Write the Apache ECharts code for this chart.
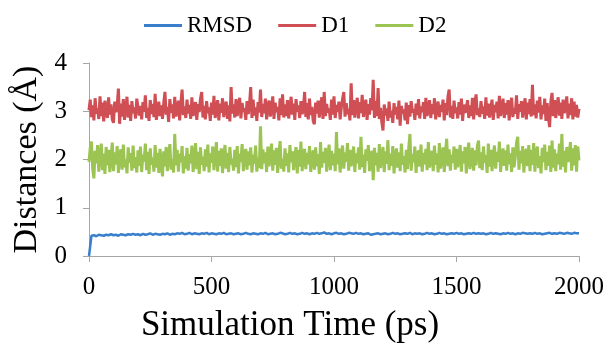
<!DOCTYPE html>
<html>
<head>
<meta charset="utf-8">
<script src="https://cdn.jsdelivr.net/npm/echarts@6/dist/echarts.min.js"></script>
<style>html,body{margin:0;padding:0;background:#fff}#c{width:608px;height:348px}</style>
</head>
<body>
<div id="c"></div>
<script>
// sampling steps of the time series (ps)
const RMSD_STEP = 10;
const D_STEP = 5;
const seriesNames = ['RMSD', 'D1', 'D2'];
const xTicks = [0, 500, 1000, 1500, 2000];
const yTicks = [0, 1, 2, 3, 4];

const rmsd = [
0.00,0.42,0.43,0.41,0.44,0.43,0.42,0.44,0.43,0.45,
0.43,0.44,0.42,0.45,0.44,0.43,0.45,0.44,0.46,0.44,
0.45,0.43,0.46,0.44,0.45,0.47,0.44,0.46,0.45,0.44,
0.46,0.45,0.47,0.44,0.46,0.45,0.47,0.46,0.48,0.45,
0.46,0.48,0.45,0.47,0.46,0.45,0.47,0.46,0.48,0.45,
0.47,0.46,0.45,0.47,0.46,0.48,0.45,0.46,0.47,0.45,
0.46,0.47,0.45,0.46,0.48,0.46,0.45,0.47,0.46,0.45,
0.47,0.46,0.48,0.45,0.46,0.47,0.45,0.46,0.48,0.47,
0.45,0.46,0.48,0.46,0.47,0.45,0.46,0.48,0.46,0.47,
0.45,0.47,0.46,0.48,0.46,0.47,0.49,0.46,0.47,0.45,
0.47,0.48,0.46,0.47,0.45,0.46,0.48,0.47,0.46,0.48,
0.46,0.47,0.45,0.46,0.47,0.44,0.45,0.46,0.47,0.45,
0.46,0.47,0.45,0.46,0.48,0.46,0.47,0.45,0.46,0.47,
0.46,0.48,0.45,0.47,0.46,0.47,0.45,0.46,0.48,0.46,
0.47,0.45,0.46,0.48,0.46,0.47,0.45,0.46,0.47,0.46,
0.48,0.46,0.47,0.45,0.46,0.47,0.46,0.48,0.46,0.47,
0.46,0.47,0.45,0.46,0.48,0.46,0.47,0.46,0.45,0.47,
0.46,0.48,0.46,0.47,0.45,0.47,0.46,0.48,0.47,0.46,
0.47,0.46,0.48,0.46,0.47,0.45,0.46,0.47,0.48,0.46,
0.47,0.46,0.48,0.47,0.46,0.48,0.47,0.46,0.48,0.47,
0.47];

const d1 = [
3.02,3.24,2.88,3.12,2.81,3.27,2.95,3.06,2.84,3.31,2.90,3.18,2.79,3.22,3.00,2.86,3.29,2.93,3.14,2.83,
2.76,3.20,2.98,3.10,3.47,2.74,3.16,2.89,3.25,2.82,3.05,3.30,2.87,3.13,2.80,3.21,2.96,3.08,2.85,3.26,
3.28,2.91,3.11,2.83,3.19,2.99,3.33,2.86,3.07,2.80,3.23,2.94,3.15,2.88,3.36,2.82,3.03,3.20,2.90,3.12,
2.84,3.17,3.40,2.93,3.09,2.78,3.25,2.97,3.14,2.85,3.30,2.89,3.06,3.22,2.81,3.18,3.45,2.92,3.10,2.86,
3.24,2.95,3.13,2.84,3.29,2.90,3.07,3.19,2.82,3.15,2.98,3.26,3.40,2.87,3.11,2.83,3.21,2.96,3.08,2.80,
3.18,2.93,3.32,2.86,3.04,3.23,2.81,3.16,2.97,3.27,2.88,3.09,3.20,2.84,3.12,2.79,3.50,2.95,3.14,2.87,
3.25,2.90,3.10,3.28,2.85,3.17,2.99,3.06,2.82,3.21,2.94,3.13,3.50,2.86,3.24,2.91,3.08,2.80,3.19,2.97,
3.45,2.88,3.15,2.96,3.26,2.83,3.11,3.22,2.89,3.05,3.31,2.84,3.18,2.98,3.09,2.81,3.27,2.92,3.35,2.87,
3.14,2.90,3.23,2.85,3.07,3.30,2.93,3.16,2.82,3.25,2.99,3.12,2.86,3.21,2.94,3.04,3.40,2.88,3.17,2.83,
3.26,2.92,3.09,2.80,2.73,3.18,2.95,3.22,2.87,3.11,3.29,2.84,3.40,2.90,3.15,2.97,3.06,2.82,3.24,2.93,
3.31,2.86,3.13,2.99,3.20,2.83,3.08,3.26,3.40,2.89,3.17,2.94,3.05,2.81,3.58,2.92,3.23,2.87,3.12,3.28,
2.85,3.19,2.96,3.34,2.88,3.10,3.24,2.82,3.15,2.93,3.27,3.02,3.65,2.86,3.21,2.90,3.48,2.84,3.07,2.78,
2.60,3.14,2.91,3.06,2.80,3.20,2.87,3.01,2.76,3.17,2.93,3.09,2.83,3.22,2.70,3.11,2.95,3.04,2.81,3.18,
2.73,3.13,2.89,3.21,2.97,3.05,2.82,3.16,2.92,3.25,2.85,3.10,2.98,3.19,2.84,3.28,2.90,3.07,3.23,2.86,
3.15,2.94,3.27,2.83,3.09,3.20,2.88,3.13,2.99,3.24,2.81,3.17,2.92,3.30,3.45,2.87,3.11,2.84,3.22,2.96,
3.08,2.85,3.19,2.93,3.26,2.80,3.14,2.97,3.04,3.23,2.86,3.12,2.90,3.28,2.83,3.18,3.35,2.92,3.06,2.88,
3.21,2.95,3.10,2.84,3.29,2.91,3.16,2.87,3.05,3.24,2.82,3.13,2.98,3.20,2.85,3.32,2.90,3.08,3.26,2.86,
3.17,2.93,3.23,2.81,3.11,3.28,2.88,3.06,2.95,3.33,2.84,3.15,2.99,3.21,2.87,3.09,3.27,2.83,3.18,2.94,
3.25,2.89,3.55,2.92,3.14,2.85,3.22,2.97,3.30,2.83,3.12,2.94,3.26,2.80,3.17,2.88,2.67,3.20,3.38,2.90,
3.23,2.86,3.10,3.29,2.91,3.18,2.84,3.24,2.96,3.07,3.31,2.85,3.16,2.92,3.27,2.83,3.20,2.89,3.13,2.87,
3.05];

const d2 = [
1.95,2.24,2.37,1.80,1.61,2.18,1.92,2.30,1.75,2.06,2.33,1.78,2.12,1.70,2.26,1.88,2.20,1.74,2.02,2.35,
1.76,2.15,1.90,2.28,1.72,2.08,2.21,1.79,2.31,1.84,2.00,1.71,2.25,1.93,2.13,1.77,2.29,1.82,2.05,1.73,
2.19,1.87,2.27,1.74,2.10,1.96,2.33,1.78,2.16,1.70,2.23,1.89,2.04,1.75,2.30,1.83,2.14,1.72,2.22,1.91,
1.65,2.17,1.86,2.26,1.76,2.09,2.32,1.79,2.01,1.73,2.53,1.88,2.20,1.75,2.12,1.94,2.28,1.71,2.07,1.81,
2.24,1.77,2.11,1.92,2.29,1.74,2.03,2.34,1.80,2.16,1.70,2.25,1.89,2.06,1.76,2.21,1.85,2.31,1.73,2.13,
1.93,2.27,1.78,2.09,2.36,1.75,2.18,1.87,2.23,1.72,2.05,2.30,1.81,2.14,1.74,2.26,1.90,2.02,1.77,2.20,
1.84,2.28,1.71,2.12,1.95,2.32,1.76,2.07,2.22,1.79,2.17,1.88,2.25,1.73,2.10,1.91,2.29,1.75,2.04,1.82,
2.69,1.80,2.21,1.92,2.15,1.74,2.27,1.86,2.08,2.33,1.77,2.19,1.89,2.24,1.72,2.11,2.38,1.81,2.02,1.75,
2.23,1.87,2.13,1.73,2.30,1.94,2.17,1.78,2.06,2.26,1.71,2.20,1.85,2.37,1.76,2.09,2.22,1.80,2.14,1.90,
2.28,1.74,2.03,2.19,1.79,2.25,1.86,2.11,1.70,2.36,1.83,2.16,1.93,2.24,1.75,2.07,2.31,1.78,2.18,1.88,
2.12,1.76,2.57,1.90,2.23,1.73,2.08,2.29,1.81,2.15,1.95,2.34,1.77,2.20,1.86,2.05,2.27,1.74,2.13,1.92,
2.25,1.79,2.47,1.84,2.10,1.72,2.21,1.97,2.30,1.76,2.06,2.18,1.57,2.24,1.88,2.14,1.75,2.32,1.82,2.09,
2.26,1.74,2.17,1.91,2.40,1.78,2.12,1.87,2.28,1.71,2.04,2.23,1.83,2.15,1.76,2.33,1.89,2.07,1.73,2.20,
1.80,2.24,2.53,1.77,2.11,1.94,2.27,1.72,2.08,2.19,1.85,2.31,1.75,2.14,1.90,2.22,1.78,2.36,1.83,2.05,
2.18,1.76,2.29,1.89,2.13,1.73,2.34,1.81,2.07,2.25,1.74,2.16,2.43,1.86,2.21,1.77,2.10,1.93,2.27,1.79,
2.22,1.84,2.06,2.30,1.75,2.17,1.92,2.26,1.71,2.12,2.35,1.80,2.04,2.24,1.77,2.19,1.88,2.28,2.39,1.82,
2.15,1.78,2.27,1.93,2.09,1.72,2.33,1.85,2.20,1.76,2.11,2.29,1.81,2.16,1.95,2.37,1.74,2.08,2.23,1.87,
2.19,1.77,2.31,1.90,2.13,1.74,2.25,1.84,2.06,2.35,2.47,1.79,2.18,1.92,2.28,1.73,2.10,2.22,1.86,2.30,
1.76,2.20,1.89,2.34,1.75,2.14,2.27,1.82,2.07,1.71,2.24,1.94,2.31,1.78,2.16,1.87,2.29,1.74,2.39,1.83,
2.21,1.76,2.12,1.90,2.33,1.79,2.53,1.85,2.18,1.73,2.26,1.95,2.09,2.36,1.77,2.23,1.88,2.30,1.75,2.27,
1.98];

const colors = ['#3A7FCC', '#CF4F55', '#9BC453'];
const FONT = "'Liberation Serif','Times New Roman',serif";

function pairs(vals, step) { return vals.map((v, i) => [i * step, v]); }
const allData = [pairs(rmsd, RMSD_STEP), pairs(d1, D_STEP), pairs(d2, D_STEP)];

const chart = echarts.init(document.getElementById('c'), null, {renderer: 'canvas'});
chart.setOption({
  animation: false,
  backgroundColor: '#fff',
  color: colors,
  textStyle: {fontFamily: FONT, color: '#000'},
  legend: {
    data: seriesNames,
    left: 139, top: 9,
    icon: 'rect', itemWidth: 38, itemHeight: 3, itemGap: 26,
    textStyle: {fontFamily: FONT, fontSize: 23, color: '#000'}
  },
  grid: {left: 89, right: 29, top: 63, bottom: 89, containLabel: false},
  xAxis: {
    type: 'value', min: xTicks[0], max: xTicks[xTicks.length - 1], interval: 500,
    name: 'Simulation Time (ps)', nameLocation: 'middle', nameGap: 52,
    nameTextStyle: {fontFamily: FONT, fontSize: 35, color: '#000', padding: [0, 88, 0, 0]},
    axisLine: {show: true, lineStyle: {color: '#A6A6A6', width: 1}},
    axisTick: {show: true, length: 6, lineStyle: {color: '#A6A6A6'}},
    axisLabel: {fontFamily: FONT, fontSize: 25, color: '#000', margin: 19, formatter: v => String(v)},
    splitLine: {show: false}
  },
  yAxis: {
    type: 'value', min: yTicks[0], max: yTicks[yTicks.length - 1], interval: 1,
    name: 'Distances (Å)', nameLocation: 'middle', nameGap: 40,
    nameTextStyle: {fontFamily: FONT, fontSize: 34, color: '#000'},
    axisLine: {show: true, lineStyle: {color: '#A6A6A6', width: 1}},
    axisTick: {show: true, length: 6, lineStyle: {color: '#A6A6A6'}},
    axisLabel: {fontFamily: FONT, fontSize: 25, color: '#000', margin: 22, formatter: v => String(v)},
    splitLine: {show: false}
  },
  series: seriesNames.map((n, k) => ({
    name: n, type: 'line', data: allData[k],
    showSymbol: false, symbol: 'none',
    lineStyle: {width: k === 0 ? 2.5 : 3, color: colors[k]},
    itemStyle: {color: colors[k]}
  }))
});
</script>
</body>
</html>
